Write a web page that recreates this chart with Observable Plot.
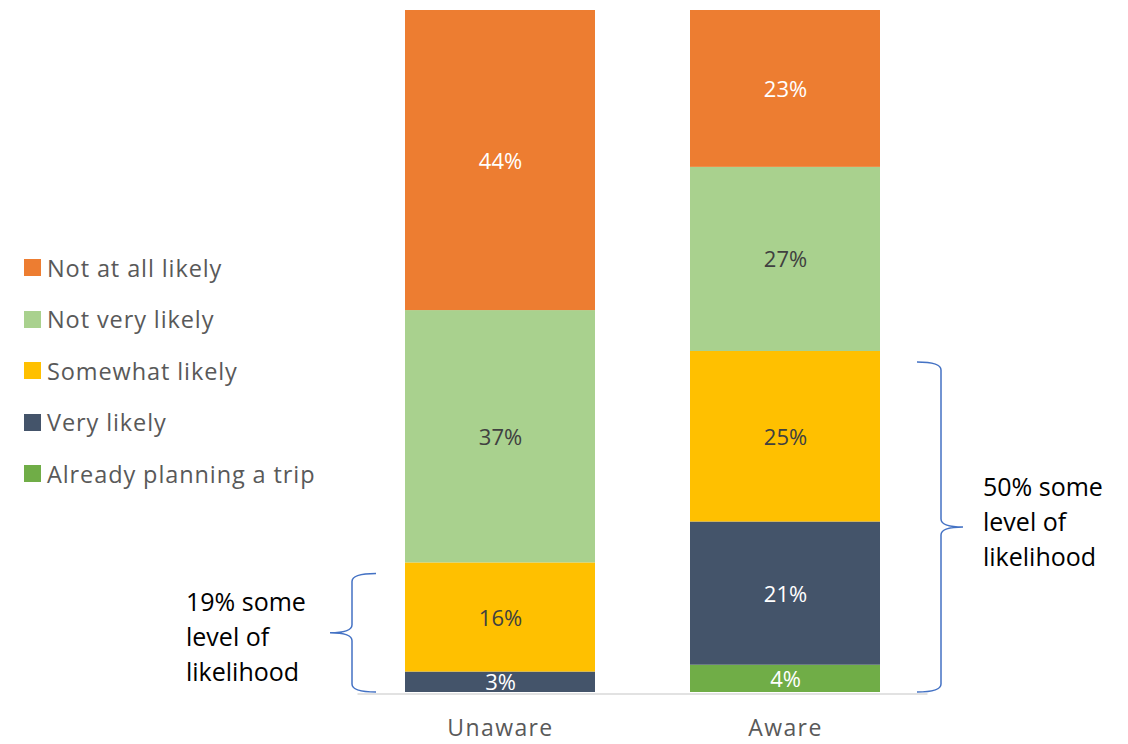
<!DOCTYPE html>
<html>
<head>
<meta charset="utf-8">
<script src="https://cdn.jsdelivr.net/npm/d3@7"></script>
<script src="https://cdn.jsdelivr.net/npm/@observablehq/plot@0.6"></script>
<style>
  body { margin: 0; background: #fff; }
  #wrap { position: relative; width: 1128px; height: 744px; font-family: "Open Sans", sans-serif; }
  #legend { position: absolute; left: 24px; top: 242px; }
  .item { display: flex; align-items: center; height: 51.5px; font-size: 23.5px; letter-spacing: 0.9px; color: #595959; }
  .sw { width: 17px; height: 17px; margin-right: 6px; }
</style>
</head>
<body>
<div id="wrap"><div id="legend"></div></div>
<script>
const groups = ["Unaware", "Aware"];
const categories = ["Already planning a trip", "Very likely", "Somewhat likely", "Not very likely", "Not at all likely"];
const unawareValues = [0, 3, 16, 37, 44];
const awareValues = [4, 21, 25, 27, 23];
const colors = ["#70AD47", "#44546A", "#FFC000", "#A9D18E", "#ED7D31"];
const labelColors = ["#ffffff", "#ffffff", "#404040", "#404040", "#ffffff"];
const legendOrder = ["Not at all likely", "Not very likely", "Somewhat likely", "Very likely", "Already planning a trip"];
// which categories count as "some level of likelihood"
const likelyCategories = ["Already planning a trip", "Very likely", "Somewhat likely"];

const data = [];
groups.forEach((g, gi) => {
  const vals = gi === 0 ? unawareValues : awareValues;
  categories.forEach((c, ci) => data.push({group: g, cat: c, value: vals[ci]}));
});

const labelColor = new Map(categories.map((c, i) => [c, labelColors[i]]));

const plot = Plot.plot({
  width: 1128,
  height: 744,
  marginTop: 10,
  marginBottom: 52,
  marginLeft: 357.5,
  marginRight: 200.5,
  style: {fontFamily: "'Open Sans', sans-serif", color: "#595959", background: "transparent"},
  x: {domain: groups, paddingInner: 1/3, paddingOuter: 1/6, label: null},
  y: {domain: [0, 100], axis: null},
  color: {domain: categories, range: colors},
  marks: [
    Plot.barY(data, Plot.stackY({x: "group", y: "value", fill: "cat", order: categories})),
    Plot.ruleY([0], {stroke: "#d9d9d9", strokeWidth: 1.5, dy: 1.5}),
    Plot.text(data.filter(d => d.value > 0), Plot.stackY({
      x: "group", y: "value", z: "cat", order: categories,
      text: d => d.value + "%",
      fill: d => labelColor.get(d.cat),
      fontSize: 22, dy: 1
    })),
    Plot.axisX({tickSize: 0, tickPadding: 27, fontSize: 23, fill: "#595959"})
  ]
});

document.getElementById("wrap").appendChild(plot);
d3.select(plot).selectAll("[aria-label='x-axis tick label'] text").style("letter-spacing", "1.4px");

// Legend
const legend = d3.select("#legend");
legendOrder.forEach(c => {
  const it = legend.append("div").attr("class", "item");
  it.append("div").attr("class", "sw").style("background", colors[categories.indexOf(c)]);
  it.append("span").text(c);
});

// Braces with annotations, positioned through the plot's scales
const xs = plot.scale("x");
const ys = plot.scale("y");
const svg = d3.select(plot);
const annotations = [
  {group: "Unaware", side: "left", shift: 5},
  {group: "Aware", side: "right", shift: -5}
];
annotations.forEach(a => {
  const total = data.filter(d => d.group === a.group && likelyCategories.includes(d.cat))
                    .reduce((s, d) => s + d.value, 0);
  const bx = xs.apply(a.group);
  const bw = xs.bandwidth;
  const yt = ys.apply(total) + 11;
  const yb = ys.apply(0);
  const ym = (yt + yb) / 2;
  const s = a.side === "left" ? -1 : 1;       // direction the tip points
  const x0 = a.side === "left" ? bx - 53 : bx + bw + 61;
  const e = x0 - s * 24;  // ends reach toward bar
  const t = x0 + s * 22;  // tip
  const p = `M${e},${yt} Q${x0},${yt} ${x0},${yt + 8} L${x0},${ym - 8} Q${x0},${ym} ${t},${ym} Q${x0},${ym} ${x0},${ym + 8} L${x0},${yb - 8} Q${x0},${yb} ${e},${yb}`;
  svg.append("path").attr("d", p).attr("fill", "none").attr("stroke", "#4472C4").attr("stroke-width", 1.5);
  const lines = [total + "% some", "level of", "likelihood"];
  const tx = a.side === "left" ? x0 - 166 : x0 + 42;
  const txt = svg.append("text").attr("x", tx).attr("y", ym).attr("font-size", 25)
    .attr("text-anchor", "start")
    .attr("fill", "#000").attr("font-family", "'Open Sans', sans-serif");
  lines.forEach((l, i) => {
    txt.append("tspan").attr("x", tx).attr("y", ym + a.shift + (i - 1) * 35).attr("dy", "0.35em").text(l);
  });
});
</script>
</body>
</html>
